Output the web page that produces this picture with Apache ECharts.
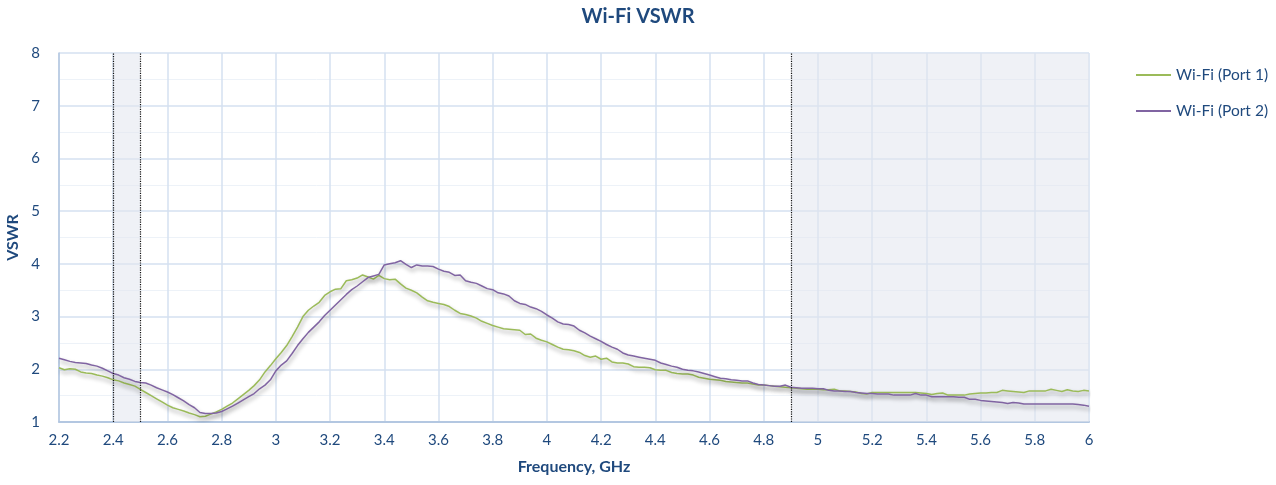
<!DOCTYPE html>
<html>
<head>
<meta charset="utf-8">
<script src="https://cdn.jsdelivr.net/npm/echarts@6/dist/echarts.min.js"></script>
<style>
html,body{margin:0;padding:0;background:#fff;}
#main{width:1276px;height:485px;}
</style>
</head>
<body>
<div id="main"></div>
<script>
// Frequency grid (GHz): 2.20 .. 6.00 in 0.02 steps
var freqStart = 2.2, freqStep = 0.02;
// Port 1 (green) VSWR
var port1 = [
2.03,1.99,2.01,2.00,1.95,1.93,1.92,1.89,1.87,1.84,
1.80,1.78,1.74,1.71,1.68,1.62,1.56,1.50,1.44,1.38,
1.32,1.27,1.24,1.21,1.17,1.14,1.10,1.11,1.15,1.19,
1.24,1.30,1.36,1.44,1.52,1.60,1.69,1.80,1.95,2.07,
2.20,2.32,2.45,2.62,2.80,3.00,3.12,3.20,3.27,3.40,
3.47,3.52,3.53,3.68,3.70,3.73,3.79,3.75,3.71,3.78,
3.72,3.70,3.71,3.62,3.54,3.50,3.45,3.37,3.30,3.27,
3.25,3.23,3.19,3.12,3.06,3.04,3.01,2.97,2.91,2.87,
2.83,2.80,2.77,2.76,2.75,2.74,2.66,2.67,2.59,2.55,
2.52,2.47,2.42,2.38,2.37,2.35,2.32,2.26,2.23,2.25,
2.19,2.21,2.14,2.12,2.12,2.10,2.05,2.04,2.04,2.03,
1.99,1.98,1.98,1.94,1.92,1.91,1.91,1.89,1.85,1.83,
1.81,1.80,1.79,1.77,1.76,1.75,1.74,1.74,1.72,1.70,
1.70,1.69,1.68,1.67,1.66,1.65,1.64,1.63,1.62,1.62,
1.62,1.61,1.61,1.62,1.59,1.59,1.58,1.57,1.54,1.53,
1.56,1.56,1.56,1.56,1.56,1.56,1.56,1.56,1.56,1.55,
1.54,1.52,1.54,1.55,1.51,1.51,1.51,1.51,1.53,1.54,
1.55,1.55,1.56,1.56,1.60,1.59,1.58,1.57,1.56,1.59,
1.59,1.59,1.59,1.62,1.60,1.58,1.61,1.59,1.58,1.60,
1.59
];
// Port 2 (purple) VSWR
var port2 = [
2.21,2.18,2.15,2.13,2.12,2.11,2.08,2.06,2.02,1.97,
1.92,1.89,1.84,1.81,1.77,1.75,1.74,1.70,1.65,1.61,
1.57,1.52,1.46,1.40,1.33,1.27,1.18,1.16,1.16,1.17,
1.20,1.25,1.30,1.36,1.42,1.48,1.54,1.63,1.70,1.80,
1.97,2.08,2.16,2.30,2.45,2.58,2.70,2.80,2.90,3.02,
3.12,3.22,3.32,3.42,3.51,3.58,3.66,3.74,3.77,3.80,
3.98,4.00,4.02,4.06,3.99,3.93,3.98,3.96,3.96,3.95,
3.90,3.86,3.84,3.78,3.79,3.68,3.65,3.63,3.58,3.53,
3.51,3.45,3.43,3.39,3.30,3.25,3.23,3.18,3.15,3.10,
3.03,2.97,2.90,2.86,2.85,2.82,2.74,2.69,2.63,2.58,
2.53,2.47,2.42,2.38,2.31,2.27,2.25,2.23,2.21,2.19,
2.17,2.12,2.09,2.06,2.04,2.00,1.98,1.97,1.95,1.92,
1.89,1.86,1.83,1.82,1.80,1.79,1.78,1.78,1.74,1.71,
1.70,1.69,1.68,1.68,1.70,1.66,1.65,1.64,1.64,1.64,
1.63,1.63,1.60,1.59,1.59,1.58,1.58,1.56,1.55,1.54,
1.54,1.53,1.53,1.53,1.51,1.51,1.51,1.51,1.54,1.51,
1.51,1.48,1.48,1.48,1.48,1.48,1.47,1.47,1.43,1.43,
1.41,1.40,1.39,1.38,1.37,1.35,1.37,1.36,1.34,1.34,
1.34,1.34,1.34,1.34,1.34,1.34,1.34,1.34,1.33,1.32,
1.30
];
var seriesNames = ['Wi-Fi (Port 1)', 'Wi-Fi (Port 2)'];
var bandRanges = [[2.4, 2.5], [4.9, 6.0]];
var markerFreqs = [2.4, 2.5, 4.9];
var xTicks = {min: 2.2, max: 6.0, interval: 0.2};
var yTicks = {min: 1, max: 8, interval: 1};

function pairs(vals) {
  return vals.map(function (v, i) {
    return [Math.round((freqStart + i * freqStep) * 100) / 100, v];
  });
}

var textColor = '#1f497d';
var font = 'Lato, "Open Sans", sans-serif';
var chart = echarts.init(document.getElementById('main'));
chart.setOption({
  animation: false,
  backgroundColor: '#ffffff',
  textStyle: {fontFamily: font},
  title: {
    text: 'Wi-Fi VSWR', left: 'center', top: 2,
    textStyle: {color: textColor, fontSize: 20, fontWeight: 'bold', fontFamily: font}
  },
  legend: {
    orient: 'vertical', left: 1131, top: 62, itemGap: 20,
    itemWidth: 35, itemHeight: 2, icon: 'rect',
    textStyle: {color: textColor, fontSize: 15.5, fontFamily: font},
    data: seriesNames
  },
  grid: {left: 59, right: 187, top: 53, bottom: 63, containLabel: false, outerBoundsMode: 'none'},
  xAxis: {
    type: 'value', min: xTicks.min, max: xTicks.max, interval: xTicks.interval,
    name: 'Frequency, GHz', nameLocation: 'middle', nameGap: 37,
    nameTextStyle: {color: textColor, fontSize: 16, fontWeight: 'bold', fontFamily: font},
    axisLine: {show: true, lineStyle: {color: '#b3c7e1', width: 2}},
    axisTick: {show: false},
    axisLabel: {color: textColor, fontSize: 15, margin: 11, fontFamily: font},
    splitLine: {show: true, lineStyle: {color: '#d4e0f0', width: 1.5}}
  },
  yAxis: {
    type: 'value', min: yTicks.min, max: yTicks.max, interval: yTicks.interval,
    name: 'VSWR', nameLocation: 'middle', nameGap: 35,
    nameTextStyle: {color: textColor, fontSize: 16, fontWeight: 'bold', fontFamily: font},
    axisLine: {show: true, lineStyle: {color: '#b3c7e1', width: 1.5}},
    axisTick: {show: false},
    axisLabel: {color: textColor, fontSize: 15, margin: 19, fontFamily: font},
    splitLine: {show: true, lineStyle: {color: '#d4e0f0', width: 1.5}},
    minorTick: {show: false, splitNumber: 2},
    minorSplitLine: {show: true, lineStyle: {color: '#edf2f8', width: 1}}
  },
  series: [
    {
      name: seriesNames[0], type: 'line', data: pairs(port1), symbol: 'none',
      z: 3,
      color: '#9bbb59',
      lineStyle: {color: '#9bbb59', width: 1.5, shadowColor: 'rgba(0,0,0,0.4)', shadowBlur: 4, shadowOffsetX: 1, shadowOffsetY: 3},
      markArea: {
        silent: true,
        itemStyle: {color: 'rgba(225,229,238,0.55)'},
        data: bandRanges.map(function (r) { return [{xAxis: r[0]}, {xAxis: r[1]}]; })
      },
      markLine: {
        silent: true, symbol: 'none', label: {show: false},
        lineStyle: {color: '#111', type: 'dotted', width: 1.2},
        data: markerFreqs.map(function (f) { return {xAxis: f}; })
      }
    },
    {
      name: seriesNames[1], type: 'line', data: pairs(port2), symbol: 'none',
      z: 4,
      color: '#8064a2',
      lineStyle: {color: '#8064a2', width: 1.5, shadowColor: 'rgba(0,0,0,0.4)', shadowBlur: 4, shadowOffsetX: 1, shadowOffsetY: 3}
    }
  ]
});
</script>
</body>
</html>
